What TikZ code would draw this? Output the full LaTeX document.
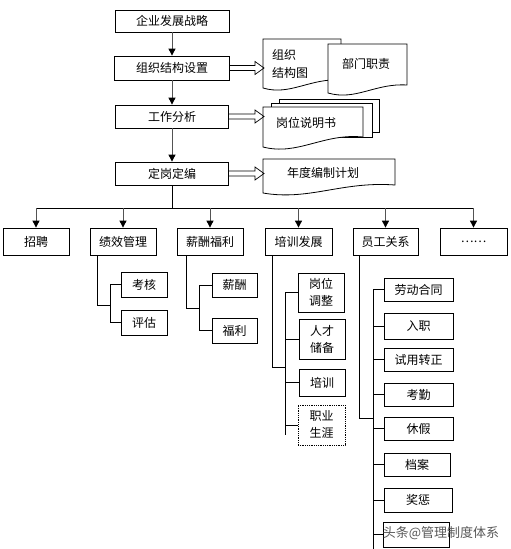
\documentclass[tikz,border=0pt]{standalone}
\usepackage{fontspec}
\setmainfont{Noto Sans CJK SC}
\usetikzlibrary{arrows.meta}
\begin{document}
\begin{tikzpicture}[x=1pt,y=-1pt,
  box/.style={draw, line width=0.8pt, inner sep=0pt, align=center, font=\fontsize{12}{17}\selectfont},
  txt/.style={inner sep=0pt, align=center, font=\fontsize{12}{18}\selectfont},
  arr/.style={draw=gray!65!black, line width=0.9pt, -{Triangle[width=7pt,length=7pt,color=black]}},
  lnk/.style={line width=0.8pt},
  hollow/.style={line width=0.7pt, line join=miter},
  docs/.style={draw, line width=0.8pt, fill=white}]
\useasboundingbox (0,0) rectangle (511,549);
\fill[white] (0,0) rectangle (511,549);
% main chain
\node[box, minimum width=114pt, minimum height=22pt] (s1) at (172,21) {企业发展战略};
\node[box, minimum width=115pt, minimum height=24pt] (s2) at (172,68) {组织结构设置};
\node[box, minimum width=113pt, minimum height=23pt] (s3) at (172,116.5) {工作分析};
\node[box, minimum width=113pt, minimum height=23pt] (s4) at (172,173.5) {定岗定编};
\draw[arr] (s1) -- (s2);
\draw[arr] (s2) -- (s3);
\draw[arr] (s3) -- (s4);
% documents
\draw[docs] (263,39) -- (341,39) -- (341,80) .. controls (310,78) and (290,96) .. (263,88) -- cycle;
\node[txt, anchor=west, align=left] (tA) at (272,64) {组织\\结构图};
\draw[docs] (328,44) -- (407,44) -- (407,85) .. controls (375,83) and (356,101) .. (328,93) -- cycle;
\node[txt] (tB) at (366,64) {部门职责};
\draw[docs] (279,99) rectangle (379,132);
\draw[docs] (271,103) rectangle (372,137);
\draw[docs] (263,107) -- (363,107) -- (363,137) .. controls (323,133) and (298,156) .. (263,147) -- cycle;
\node[txt] (tC) at (306,123) {岗位说明书};
\draw[docs] (263,159) -- (395,159) -- (395,185) .. controls (342,181) and (309,201) .. (263,193) -- cycle;
\node[txt] (tD) at (323,173) {年度编制计划};
\coordinate (dA) at (264,68);
\coordinate (dC) at (264,116.5);
\coordinate (dD) at (264,173.5);
\foreach \s/\d in {s2/dA, s3/dC, s4/dD}
  \draw[hollow] ([yshift=2.5pt]\s.east) -- ([xshift=-9pt,yshift=2.5pt]\d) -- ([xshift=-9pt,yshift=6.5pt]\d) -- (\d)
     -- ([xshift=-9pt,yshift=-6.5pt]\d) -- ([xshift=-9pt,yshift=-2.5pt]\d) -- ([yshift=-2.5pt]\s.east);
% second row
\node[box, minimum width=66pt, minimum height=27pt] (b1) at (36,241.5) {招聘};
\node[box, minimum width=66pt, minimum height=27pt] (b2) at (123,241.5) {绩效管理};
\node[box, minimum width=66pt, minimum height=27pt] (b3) at (210,241.5) {薪酬福利};
\node[box, minimum width=67pt, minimum height=27pt] (b4) at (298.5,241.5) {培训发展};
\node[box, minimum width=65pt, minimum height=27pt] (b5) at (385.5,241.5) {员工关系};
\node[box, minimum width=67pt, minimum height=27pt] (b6) at (473.5,241.5) {……};
\coordinate (bus) at (172,208);
\draw[lnk] (s4.south) -- (bus);
\draw[lnk] (b1.north |- bus) -- (b6.north |- bus);
\foreach \b in {b1,b2,b3,b4,b5,b6} \draw[arr] (\b.north |- bus) -- (\b.north);
% 绩效管理
\node[box, minimum width=46pt, minimum height=25pt] (k1) at (144,284.5) {考核};
\node[box, minimum width=46pt, minimum height=25pt] (k2) at (144,322.5) {评估};
\coordinate (j2) at (110,305);
\draw[lnk] ([xshift=8pt]b2.south west) |- (j2);
\draw[lnk] (k1.west) -- (k1.west -| j2) -- (k2.west -| j2) -- (k2.west);
% 薪酬福利
\node[box, minimum width=45pt, minimum height=24pt] (k3) at (234.5,285) {薪酬};
\node[box, minimum width=45pt, minimum height=25pt] (k4) at (234.5,330.5) {福利};
\coordinate (j3) at (199,308);
\draw[lnk] ([xshift=10pt]b3.south west) |- (j3);
\draw[lnk] (k3.west) -- (k3.west -| j3) -- (k4.west -| j3) -- (k4.west);
% 培训发展
\node[box, minimum width=46pt, minimum height=39pt] (p1) at (321,292.5) {岗位\\调整};
\node[box, minimum width=46pt, minimum height=40pt] (p2) at (322,339) {人才\\储备};
\node[box, minimum width=46pt, minimum height=27pt] (p3) at (322,382.5) {培训};
\node[box, densely dotted, minimum width=47pt, minimum height=40pt] (p4) at (321.5,425) {职业\\生涯};
\coordinate (j4) at (285,367);
\coordinate (pend) at (285,435);
\draw[lnk] ([xshift=8pt]b4.south west) |- (j4);
\draw[lnk] (p1.west -| j4) -- (pend);
\foreach \p in {p1,p2,p3,p4} \draw[lnk] (\p.west) -- (\p.west -| j4);
% 员工关系
\node[box, minimum width=69pt, minimum height=23pt] (e1) at (418.5,289.5) {劳动合同};
\node[box, minimum width=69pt, minimum height=26pt] (e2) at (418.5,326) {入职};
\node[box, minimum width=69pt, minimum height=23pt] (e3) at (418.5,359.5) {试用转正};
\node[box, minimum width=69pt, minimum height=23pt] (e4) at (418.5,394.5) {考勤};
\node[box, minimum width=69pt, minimum height=23pt] (e5) at (418.5,428.5) {休假};
\node[box, minimum width=66pt, minimum height=23pt] (e6) at (417,464.5) {档案};
\node[box, minimum width=68pt, minimum height=24pt] (e7) at (418,500) {奖惩};
\node[box, minimum width=66pt, minimum height=25pt] (e8) at (416,534.5) {};
\coordinate (j5) at (373,418);
\coordinate (ebot) at (373,549);
\draw[lnk] ([xshift=7pt]b5.south west) |- (j5);
\draw[lnk] (e1.west) -- (e1.west -| j5) -- (ebot);
\foreach \e in {e2,e3,e4,e5,e6,e7,e8} \draw[lnk] (\e.west) -- (\e.west -| j5);
% watermark
\node[inner sep=0pt, text=gray!70!black, font=\fontsize{13}{13}\selectfont] (wm) at (441,533) {头条@管理制度体系};
\end{tikzpicture}
\end{document}
